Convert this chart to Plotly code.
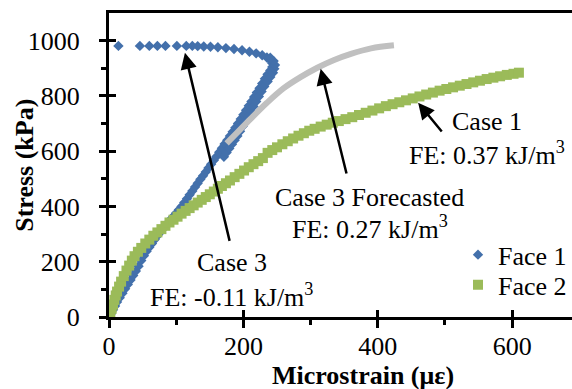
import plotly.graph_objects as go

# Face 1 (blue diamonds): microstrain, stress (kPa)
face1_x = [0, 3, 6, 9, 12, 16, 20, 24, 28, 32, 36, 40, 44, 48, 52, 56, 60, 64, 68, 72,
           76, 80, 84, 88, 92, 96, 100, 104, 108, 112, 116, 120, 124, 128, 132, 136, 140,
           144, 148, 152, 156, 160, 164, 168, 172, 176, 180, 184, 188, 192, 196, 200, 204,
           208, 212, 216, 220, 224, 228, 232, 236, 240, 243, 243, 240, 235, 228, 219, 209,
           198, 186, 174, 162, 151, 141, 132, 124, 115, 101, 84, 72, 60, 46, 14,
           171, 175, 179, 183, 187, 191, 195, 199, 203, 207, 211, 215, 219, 223, 227, 231,
           236, 240, 244, 246, 247, 245, 240]
face1_y = [0, 12, 26, 40, 54, 70, 86, 102, 118, 134, 150, 166, 184, 204, 222, 238, 252, 266,
           280, 294, 306, 318, 330, 342, 354, 365, 376, 388, 400, 414, 428, 442, 456, 470,
           484, 498, 511, 525, 539, 553, 567, 581, 596, 611, 626, 640, 655, 670, 685, 700,
           716, 732, 748, 764, 780, 796, 812, 828, 845, 862, 878, 892, 905, 918, 929, 939,
           947, 954, 960, 965, 970, 973, 976, 978, 979, 980, 981, 981, 981, 981, 981, 981,
           981, 981,
           580, 595, 610, 625, 640, 655, 672, 690, 708, 726, 744, 762, 780, 798, 816, 834,
           852, 868, 884, 898, 912, 926, 938]

# Face 2 (green squares)
face2_x = [0, 2, 4, 6, 8, 10, 12, 15, 18, 22, 26, 30, 34, 38, 43, 48, 54, 60, 66, 72, 78,
           84, 90, 96, 102, 108, 114, 120, 126, 132, 138, 144, 150, 156, 162, 168, 174, 180,
           187, 194, 201, 208, 215, 222, 229, 236, 243, 250, 258, 266, 274, 282, 290, 298,
           306, 315, 324, 333, 342, 352, 362, 372, 382, 392, 402, 412, 422, 432, 442, 452,
           462, 472, 482, 492, 502, 512, 522, 532, 542, 552, 562, 572, 582, 592, 602, 610]
face2_y = [0, 15, 30, 45, 62, 78, 92, 110, 128, 148, 168, 186, 204, 220, 236, 250, 266, 280,
           294, 306, 318, 330, 342, 352, 363, 374, 384, 394, 404, 414, 424, 434, 444, 454,
           464, 474, 484, 494, 506, 518, 530, 542, 553, 564, 575, 594, 604, 614, 625, 636,
           646, 656, 665, 674, 681, 689, 696, 703, 709, 716, 723, 731, 739, 747, 755, 763,
           770, 777, 784, 791, 798, 805, 812, 819, 825, 831, 837, 843, 849, 855, 861, 866,
           871, 876, 880, 884]

# Case 3 forecasted (gray line)
fore_x = [175, 190, 210, 235, 260, 285, 310, 335, 360, 390, 424]
fore_y = [628, 665, 715, 775, 828, 868, 902, 930, 952, 972, 983]

x_ticks = [0, 200, 400, 600]
y_ticks = [0, 200, 400, 600, 800, 1000]

FONT = "Liberation Serif"
FS = 26
BLUE = "#4370AB"
GREEN = "#9BBB59"
GRAY = "#C0C0C0"

fig = go.Figure()
fig.add_trace(go.Scatter(x=face1_x, y=face1_y, mode="markers", name="Face 1", legend="legend",
                         marker=dict(symbol="diamond", size=8, color=BLUE)))
fig.add_trace(go.Scatter(x=face2_x, y=face2_y, mode="markers", name="Face 2", legend="legend2",
                         marker=dict(symbol="square", size=10, color=GREEN)))
fig.add_trace(go.Scatter(x=fore_x, y=fore_y, mode="lines", showlegend=False,
                         line=dict(color=GRAY, width=6, shape="spline"),
                         xaxis="x2", yaxis="y2"))

axis_common = dict(showgrid=False, zeroline=False, color="black",
                   tickfont=dict(family=FONT, size=FS, color="black"))

legend_common = dict(xanchor="left", yanchor="top", bgcolor="rgba(0,0,0,0)",
                     font=dict(family=FONT, size=FS, color="black"), itemwidth=30)

fig.update_layout(
    width=572, height=389,
    margin=dict(l=109, r=0, t=13, b=72),
    paper_bgcolor="white", plot_bgcolor="white",
    font=dict(family=FONT, size=FS, color="black"),
    xaxis=dict(range=[0, 689], tickvals=x_ticks, ticks="outside", ticklen=8, tickwidth=2.5,
               tickcolor="black", showline=True, linewidth=3, linecolor="black", mirror=True,
               ticklabelstandoff=-4,
               minor=dict(tickvals=[100, 300, 500], ticks="outside", ticklen=5, tickwidth=2.5,
                          tickcolor="black", showgrid=False),
               **axis_common),
    yaxis=dict(range=[0, 1100], tickvals=y_ticks, ticks="outside", ticklen=7, tickwidth=2.5,
               tickcolor="black", showline=True, linewidth=3, linecolor="black",
               ticklabelstandoff=14,
               minor=dict(tickvals=[100, 300, 500, 700, 900], ticks="outside", ticklen=5,
                          tickwidth=2.5, tickcolor="black", showgrid=False),
               **axis_common),
    xaxis2=dict(overlaying="x", matches="x", anchor="y2", side="bottom", tickvals=x_ticks,
                ticks="inside", ticklen=7, tickwidth=2.5, tickcolor="black",
                showticklabels=False, showline=False, showgrid=False, zeroline=False),
    yaxis2=dict(overlaying="y", matches="y", anchor="x2", side="left", tickvals=y_ticks,
                ticks="inside", ticklen=7, tickwidth=2.5, tickcolor="black",
                showticklabels=False, showline=False, showgrid=False, zeroline=False),
    legend=dict(x=0.754, y=0.282, **legend_common),
    legend2=dict(x=0.754, y=0.183, **legend_common),
    showlegend=True,
)

txt = dict(family=FONT, size=FS, color="black")
notes = [
    (183, 198, "Case 3"),
    (183, 78, "FE: -0.11 kJ/m<sup>3</sup>"),
    (388, 434, "Case 3 Forecasted"),
    (388, 325, "FE: 0.27 kJ/m<sup>3</sup>"),
    (562, 706, "Case 1"),
    (563, 593, "FE: 0.37 kJ/m<sup>3</sup>"),
]
for x, y, t in notes:
    fig.add_annotation(x=x, y=y, xref="x", yref="y", text=t, showarrow=False, font=txt)

arrows = [
    (113, 956, 180, 270),
    (315, 898, 354, 514),
    (460, 775, 497, 666),
]
for hx, hy, tx, ty in arrows:
    fig.add_annotation(x=hx, y=hy, ax=tx, ay=ty, xref="x", yref="y", axref="x", ayref="y",
                       text="", showarrow=True, arrowhead=2, arrowsize=1.3, arrowwidth=2.5,
                       arrowcolor="black")

fig.add_annotation(x=0.549, y=-0.193, xref="paper", yref="paper", showarrow=False,
                   text="<b>Microstrain (με)</b>", font=txt, yanchor="middle")
fig.add_annotation(x=-0.184, y=0.5, xref="paper", yref="paper", showarrow=False,
                   text="<b>Stress (kPa)</b>", font=txt, textangle=-90, xanchor="center")

fig.write_html("out.html", post_script="document.body.style.margin='0';",
               config={"displayModeBar": False})
